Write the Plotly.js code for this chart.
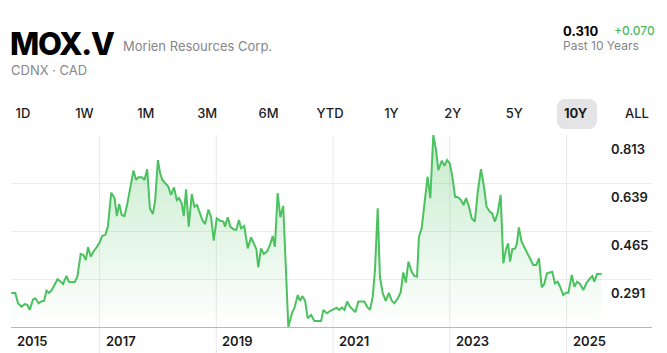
<!DOCTYPE html>
<html>
<head>
<meta charset="utf-8">
<script src="https://cdn.plot.ly/plotly-3.0.1.min.js"></script>
<style>
  html, body { margin:0; padding:0; background:#fff; }
  #wrap { position:relative; width:667px; height:353px; overflow:hidden; font-family: Inter, Roboto, "Noto Sans", sans-serif; }
  #chart { position:absolute; left:0; top:0; width:667px; height:353px; }
  .t { position:absolute; white-space:nowrap; line-height:1; }
  .btn { position:absolute; top:105px; width:40px; margin-left:-20px; text-align:center; font-size:13px; font-weight:500; color:#1c1c1e; line-height:16px; }
  #sel { position:absolute; left:557px; top:99px; width:40px; height:30px; background:#e4e4e6; border-radius:8px; }
</style>
</head>
<body>
<div id="wrap">
  <div id="chart"></div>
  <div class="t" style="left:10px; top:28px; font-size:31px; font-weight:800; color:#000; letter-spacing:-1.2px;">MOX.V</div>
  <div class="t" style="left:123px; top:40px; font-size:13px; font-weight:400; color:#86868b;">Morien Resources Corp.</div>
  <div class="t" style="left:11px; top:64px; font-size:13px; font-weight:400; color:#86868b;">CDNX · CAD</div>
  <div class="t" style="left:563px; top:25px; font-size:13px; font-weight:700; color:#000;">0.310</div>
  <div class="t" style="left:614px; top:25px; font-size:12px; font-weight:500; color:#4cbb5e;">+0.070</div>
  <div class="t" style="left:563px; top:40px; font-size:12px; font-weight:400; color:#86868b;">Past 10 Years</div>
  <div id="sel"></div>
  <div id="btns"></div>
</div>
<script>
// ---- data ----
const dates = [
"2015-06-29","2015-07-24","2015-08-10","2015-08-31","2015-09-21","2015-10-07","2015-10-22","2015-11-12","2015-11-26","2015-12-17",
"2016-01-03","2016-01-20","2016-02-04","2016-02-19","2016-03-06","2016-03-27","2016-04-13","2016-05-04","2016-05-18","2016-06-08",
"2016-06-23","2016-07-13","2016-07-30","2016-08-15","2016-09-05","2016-09-22","2016-10-07","2016-10-21","2016-11-07","2016-11-23",
"2016-12-14","2017-01-03","2017-01-17","2017-02-07","2017-02-22","2017-03-15","2017-04-05","2017-04-19","2017-05-04","2017-05-20",
"2017-06-06","2017-06-22","2017-07-11","2017-08-01","2017-08-18","2017-09-01","2017-09-23","2017-10-09","2017-10-26","2017-11-12",
"2017-12-01","2017-12-15","2018-01-01","2018-01-15","2018-01-29","2018-02-15","2018-03-07","2018-03-24","2018-04-12","2018-04-29",
"2018-05-13","2018-05-30","2018-06-12","2018-06-26","2018-07-13","2018-08-01","2018-08-17","2018-09-03","2018-09-20","2018-10-06",
"2018-10-23","2018-11-13","2018-11-30","2018-12-16","2019-01-04","2019-01-25","2019-02-15","2019-02-25","2019-03-14","2019-03-30",
"2019-04-18","2019-05-06","2019-05-23","2019-06-05","2019-06-25","2019-07-17","2019-08-07","2019-08-25","2019-09-09","2019-09-21",
"2019-10-08","2019-10-25","2019-11-14","2019-12-03","2019-12-20","2020-01-03","2020-01-20","2020-02-06","2020-02-24","2020-03-27",
"2020-04-21","2020-05-04","2020-05-25","2020-06-08","2020-06-23","2020-07-10","2020-07-26","2020-08-16","2020-09-06","2020-10-01",
"2020-10-18","2020-11-01","2020-11-23","2020-12-13","2021-01-03","2021-01-24","2021-02-08","2021-02-25","2021-03-13","2021-03-30",
"2021-04-17","2021-05-04","2021-05-20","2021-06-08","2021-06-29","2021-07-15","2021-08-01","2021-08-20","2021-09-06","2021-09-20",
"2021-10-07","2021-10-21","2021-11-07","2021-11-26","2021-12-16","2022-01-03","2022-01-19","2022-02-10","2022-02-28","2022-03-16",
"2022-04-01","2022-04-17","2022-05-08","2022-05-24","2022-06-10","2022-06-22","2022-07-09","2022-07-25","2022-08-15","2022-09-01",
"2022-09-20","2022-10-07","2022-10-21","2022-11-12","2022-11-28","2022-12-15","2023-01-01","2023-01-17","2023-02-03","2023-02-23",
"2023-03-12","2023-03-28","2023-04-13","2023-05-01","2023-05-18","2023-06-07","2023-06-24","2023-07-15","2023-08-01","2023-08-19",
"2023-09-09","2023-09-23","2023-10-10","2023-10-27","2023-11-15","2023-12-02","2023-12-19","2024-01-01","2024-01-13","2024-01-27",
"2024-02-13","2024-02-25","2024-03-08","2024-03-25","2024-04-10","2024-05-02","2024-05-18","2024-06-06","2024-06-25","2024-07-12",
"2024-07-29","2024-08-14","2024-08-31","2024-09-19","2024-10-03","2024-10-20","2024-11-06","2024-11-21","2024-12-11","2024-12-28",
"2025-01-12","2025-02-02","2025-02-18","2025-03-07","2025-03-26","2025-04-15","2025-05-07","2025-05-28","2025-06-11","2025-06-23",
"2025-07-10","2025-07-23","2025-08-08"];

const prices = [
0.240,0.240,0.203,0.191,0.200,0.197,0.179,0.217,0.221,0.203,
0.210,0.212,0.249,0.241,0.249,0.275,0.290,0.281,0.273,0.302,
0.281,0.280,0.280,0.299,0.382,0.378,0.360,0.406,0.372,0.390,
0.406,0.426,0.447,0.452,0.481,0.604,0.584,0.519,0.563,0.523,
0.519,0.559,0.626,0.684,0.650,0.660,0.660,0.650,0.689,0.547,
0.527,0.577,0.722,0.674,0.650,0.638,0.626,0.596,0.623,0.577,
0.584,0.565,0.519,0.616,0.481,0.599,0.553,0.559,0.531,0.505,
0.490,0.543,0.515,0.430,0.511,0.502,0.499,0.481,0.515,0.481,
0.471,0.469,0.505,0.475,0.483,0.402,0.442,0.420,0.399,0.333,
0.402,0.382,0.390,0.414,0.447,0.408,0.602,0.515,0.556,0.117,
0.172,0.185,0.233,0.212,0.229,0.212,0.149,0.161,0.139,0.139,
0.139,0.179,0.167,0.175,0.181,0.187,0.179,0.188,0.179,0.209,
0.191,0.179,0.171,0.209,0.209,0.209,0.191,0.179,0.227,0.324,
0.547,0.299,0.241,0.212,0.241,0.212,0.203,0.221,0.243,0.315,
0.278,0.354,0.317,0.302,0.299,0.444,0.475,0.563,0.662,0.584,
0.813,0.759,0.686,0.720,0.701,0.722,0.710,0.662,0.589,0.587,
0.577,0.559,0.584,0.553,0.511,0.499,0.602,0.689,0.632,0.553,
0.535,0.529,0.499,0.529,0.596,0.348,0.400,0.420,0.354,0.399,
0.401,0.420,0.478,0.426,0.408,0.386,0.366,0.342,0.342,0.366,
0.261,0.273,0.312,0.314,0.317,0.275,0.281,0.263,0.233,0.241,
0.241,0.306,0.263,0.281,0.273,0.251,0.278,0.294,0.302,0.281,
0.309,0.309,0.310];

const yTickVals = [0.291, 0.465, 0.639, 0.813];
const yTickText = ["0.291", "0.465", "0.639", "0.813"];
const yMin = 0.117, yMax = 0.813;

const yearLabels = ["2015", "2017", "2019", "2021", "2023", "2025"];
const yearDates  = ["2015-01-01", "2017-01-01", "2019-01-01", "2021-01-01", "2023-01-01", "2025-01-01"];
const xStart = "2015-06-27", xEnd = "2026-06-19";

const ranges = ["1D", "1W", "1M", "3M", "6M", "YTD", "1Y", "2Y", "5Y", "10Y", "ALL"];
const activeRange = "10Y";

// ---- range buttons ----
const btns = document.getElementById('btns');
ranges.forEach((r, i) => {
  const d = document.createElement('div');
  d.className = 'btn';
  d.style.left = (23 + 61.4 * i) + 'px';
  if (r === activeRange) d.style.fontWeight = '700';
  d.textContent = r;
  btns.appendChild(d);
});

// ---- chart ----
const green = '#4cc15f';
const trace = {
  x: dates, y: prices, type: 'scatter', mode: 'lines',
  line: { color: green, width: 2, shape: 'linear' },
  fill: 'tozeroy',
  fillgradient: {
    type: 'vertical',
    start: yMin, stop: yMax,
    colorscale: [[0, 'rgba(76,193,95,0.0)'], [1, 'rgba(76,193,95,0.32)']]
  },
  hoverinfo: 'skip'
};

const font = { family: 'Inter, Roboto, sans-serif', size: 13, color: '#1c1c1e', weight: 600 };
const annotations = [];
yTickVals.forEach((v, i) => {
  annotations.push({
    xref: 'paper', yref: 'y', x: (609 - 11) / 641, y: v,
    xanchor: 'left', yanchor: 'top', yshift: -4,
    text: yTickText[i], showarrow: false, font: font
  });
});
yearLabels.forEach((lab, i) => {
  const before = yearDates[i] < xStart;
  annotations.push({
    xref: before ? 'paper' : 'x', x: before ? 0 : yearDates[i],
    yref: 'paper', y: 0, xanchor: 'left', yanchor: 'top',
    xshift: 4, yshift: -4,
    text: lab, showarrow: false, font: font
  });
});

const shapes = yearDates.filter(d => d >= xStart).map(d => ({
  type: 'line', xref: 'x', yref: 'paper', x0: d, x1: d, y0: -0.14, y1: 1,
  line: { color: '#e9e9e9', width: 1 }, layer: 'below'
}));

const layout = {
  width: 667, height: 353,
  margin: { l: 11, r: 15, t: 135, b: 26, pad: 0 },
  paper_bgcolor: '#ffffff', plot_bgcolor: '#ffffff',
  showlegend: false,
  xaxis: {
    type: 'date', range: [xStart, xEnd], showgrid: false, zeroline: false,
    showticklabels: false, ticks: '', showline: true, linecolor: '#b8b8b8', linewidth: 1,
    fixedrange: true
  },
  yaxis: {
    range: [yMin, yMax], tickvals: yTickVals, showticklabels: false, ticks: '',
    showgrid: true, gridcolor: '#ebebeb', gridwidth: 1, zeroline: false, showline: false,
    fixedrange: true
  },
  annotations: annotations,
  shapes: shapes
};

Plotly.newPlot('chart', [trace], layout, { displayModeBar: false, staticPlot: true });
</script>
</body>
</html>
